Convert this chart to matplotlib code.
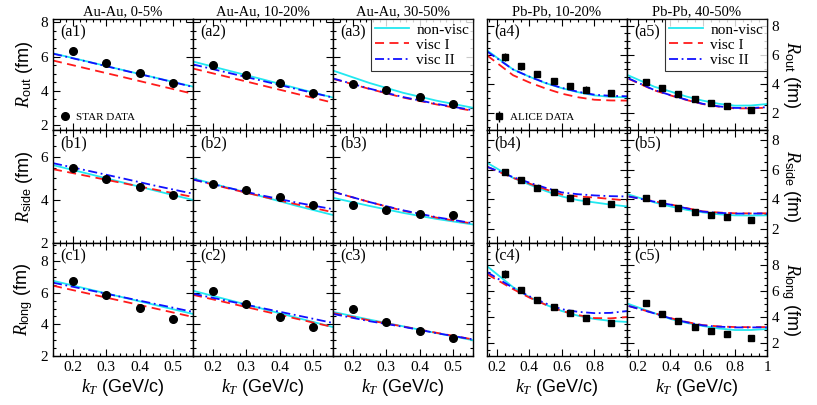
import numpy as np
import matplotlib
matplotlib.use("Agg")
import matplotlib.pyplot as plt
from matplotlib.ticker import MultipleLocator, FuncFormatter

plt.rcParams['font.family'] = ['Liberation Serif', 'DejaVu Serif']
plt.rcParams['mathtext.fontset'] = 'custom'
plt.rcParams['mathtext.rm'] = 'Liberation Sans'
plt.rcParams['mathtext.sf'] = 'Liberation Sans'
plt.rcParams['mathtext.it'] = 'Liberation Serif:italic'

# ---- data -------------------------------------------------------------
titles = ['Au-Au, 0-5%', 'Au-Au, 10-20%', 'Au-Au, 30-50%', 'Pb-Pb, 10-20%', 'Pb-Pb, 40-50%']
row_names = ['out', 'side', 'long']
row_letters = ['a', 'b', 'c']

# measured kT values
kt_star = [0.2, 0.3, 0.4, 0.5]
kt_alice = [0.25, 0.35, 0.45, 0.55, 0.65, 0.75, 0.9]

kt_th_au = [0.14, 0.25, 0.35, 0.45, 0.56]
kt_th_pb = [0.14, 0.3, 0.4, 0.5, 0.6, 0.7, 0.8, 0.9, 1.0]

# STAR data (R in fm), [row][column]
star_out = [[6.3, 5.6, 5.05, 4.45], [5.5, 4.95, 4.45, 3.85], [4.4, 4.05, 3.65, 3.25]]
star_side = [[5.48, 4.97, 4.62, 4.24], [4.72, 4.48, 4.12, 3.75], [3.78, 3.52, 3.35, 3.28]]
star_long = [[6.76, 5.87, 5.04, 4.34], [6.13, 5.3, 4.47, 3.83], [4.98, 4.15, 3.58, 3.13]]

# ALICE data
alice_out = [[5.84, 5.21, 4.68, 4.2, 3.85, 3.6, 3.35], [4.16, 3.74, 3.31, 2.97, 2.7, 2.49, 2.2]]
alice_out_err = [[0.28, 0.25, 0.22, 0.22, 0.2, 0.25, 0.18], [0.15, 0.14, 0.12, 0.12, 0.12, 0.12, 0.15]]
alice_side = [[5.87, 5.33, 4.8, 4.47, 4.13, 3.87, 3.67], [4.07, 3.73, 3.4, 3.13, 2.93, 2.8, 2.6]]
alice_side_err = [[0.15, 0.15, 0.12, 0.12, 0.12, 0.12, 0.15], [0.12, 0.12, 0.1, 0.1, 0.1, 0.1, 0.15]]
alice_long = [[7.31, 6.08, 5.31, 4.77, 4.31, 3.92, 3.54], [5.08, 4.23, 3.69, 3.23, 2.92, 2.69, 2.38]]
alice_long_err = [[0.3, 0.2, 0.15, 0.15, 0.15, 0.15, 0.15], [0.15, 0.12, 0.1, 0.1, 0.1, 0.1, 0.1]]

# model curves: non-visc, visc I, visc II
nonvisc_out = [[6.19, 5.68, 5.21, 4.75, 4.24], [5.71, 5.16, 4.66, 4.15, 3.6], [5.18, 4.45, 3.88, 3.42, 3.0],
               [6.33, 5.0, 4.5, 4.05, 3.7, 3.42, 3.2, 3.1, 3.07], [4.58, 3.8, 3.47, 3.12, 2.84, 2.62, 2.49, 2.5, 2.6]]
visc1_out = [[5.77, 5.26, 4.8, 4.33, 3.82], [5.3, 4.78, 4.3, 3.82, 3.3], [4.7, 4.1, 3.6, 3.2, 2.82],
             [5.98, 4.6, 4.1, 3.68, 3.32, 3.07, 2.9, 2.85, 2.84], [4.35, 3.55, 3.2, 2.88, 2.6, 2.42, 2.3, 2.3, 2.35]]
visc2_out = [[6.17, 5.67, 5.2, 4.74, 4.22], [5.54, 5.03, 4.57, 4.1, 3.6], [4.72, 4.12, 3.63, 3.23, 2.86],
             [6.25, 5.0, 4.5, 4.07, 3.72, 3.45, 3.25, 3.17, 3.14], [4.38, 3.57, 3.22, 2.9, 2.62, 2.44, 2.33, 2.33, 2.38]]

nonvisc_side = [[5.62, 5.2, 4.81, 4.42, 4.0], [5.0, 4.55, 4.15, 3.73, 3.3], [4.1, 3.72, 3.4, 3.12, 2.86],
                [6.47, 5.45, 5.0, 4.57, 4.2, 3.95, 3.8, 3.65, 3.53], [4.33, 3.8, 3.53, 3.3, 3.13, 3.0, 2.93, 2.92, 2.93]]
visc1_side = [[5.43, 5.09, 4.78, 4.47, 4.14], [4.95, 4.52, 4.15, 3.8, 3.43], [4.38, 3.9, 3.5, 3.18, 2.9],
              [6.2, 5.45, 5.07, 4.68, 4.33, 4.2, 4.13, 4.03, 3.93], [4.2, 3.87, 3.67, 3.42, 3.2, 3.12, 3.07, 3.06, 3.07]]
visc2_side = [[5.71, 5.34, 5.0, 4.65, 4.29], [4.95, 4.55, 4.2, 3.88, 3.57], [4.38, 3.9, 3.52, 3.2, 2.92],
              [6.2, 5.5, 5.13, 4.78, 4.47, 4.35, 4.27, 4.22, 4.2], [4.2, 3.85, 3.65, 3.4, 3.18, 3.1, 3.05, 3.05, 3.06]]

nonvisc_long = [[6.76, 6.21, 5.71, 5.21, 4.66], [6.13, 5.53, 4.98, 4.43, 3.83], [4.79, 4.3, 3.88, 3.45, 3.0],
                [7.92, 6.3, 5.54, 4.95, 4.46, 4.1, 3.85, 3.7, 3.62], [5.0, 4.3, 3.85, 3.55, 3.31, 3.12, 3.0, 3.0, 3.08]]
visc1_long = [[6.45, 5.93, 5.46, 4.99, 4.47], [5.87, 5.34, 4.85, 4.36, 3.83], [4.72, 4.25, 3.87, 3.47, 3.05],
              [7.3, 6.15, 5.5, 4.95, 4.46, 4.15, 3.92, 3.9, 4.0], [4.85, 4.3, 3.92, 3.62, 3.38, 3.28, 3.23, 3.22, 3.23]]
visc2_long = [[6.64, 6.16, 5.72, 5.28, 4.79], [5.94, 5.46, 5.02, 4.58, 4.09], [4.66, 4.2, 3.85, 3.45, 3.05],
              [7.46, 6.25, 5.6, 5.05, 4.6, 4.4, 4.3, 4.32, 4.46], [4.85, 4.28, 3.9, 3.6, 3.36, 3.26, 3.2, 3.2, 3.21]]

# y ranges per row, Au-Au block and Pb-Pb block
ylim_au = [(1.7, 8.2), (2.0, 7.25), (2.0, 9.15)]
ylim_pb = [(0.8, 8.5), (1.07, 8.67), (1.0, 9.7)]

# ---- figure -----------------------------------------------------------
W, H = 817, 405
fig = plt.figure(figsize=(W / 100, H / 100), dpi=100)

col_x = [53, 193, 333, 487, 627]
col_w = 140
row_y = [19, 130, 243, 356]

c_nv, c_v1, c_v2 = '#22e8f0', '#ff1a1a', '#1010ff'
sans = ['Liberation Sans', 'DejaVu Sans']

data_sets = [(star_out, alice_out, alice_out_err, nonvisc_out, visc1_out, visc2_out),
             (star_side, alice_side, alice_side_err, nonvisc_side, visc1_side, visc2_side),
             (star_long, alice_long, alice_long_err, nonvisc_long, visc1_long, visc2_long)]

fmt = FuncFormatter(lambda v, p: '%g' % round(v, 2))

for r in range(3):
    star, alice, alice_err, nv, v1, v2 = data_sets[r]
    for c in range(5):
        left = col_x[c] / W
        bottom = 1 - row_y[r + 1] / H
        height = (row_y[r + 1] - row_y[r]) / H
        ax = fig.add_axes([left, bottom, col_w / W, height])
        au = c < 3
        kt_th = kt_th_au if au else kt_th_pb

        l1, = ax.plot(kt_th, nv[c], '-', color=c_nv, lw=1.3, label='non-visc')
        l2, = ax.plot(kt_th, v1[c], '--', color=c_v1, lw=1.3, dashes=(5, 3), label='visc I')
        l3, = ax.plot(kt_th, v2[c], '-.', color=c_v2, lw=1.3, dashes=(5, 2, 1, 2), label='visc II')

        if au:
            pts, = ax.plot(kt_star, star[c], 'o', color='black', ms=5.5, label='STAR DATA')
            ax.set_xlim(0.14, 0.56)
            ax.set_ylim(*ylim_au[r])
            ax.xaxis.set_major_locator(MultipleLocator(0.1))
            ax.xaxis.set_minor_locator(MultipleLocator(0.02))
        else:
            k = c - 3
            eb = ax.errorbar(kt_alice, alice[k], yerr=alice_err[k], fmt='s', color='black',
                             ms=4.5, elinewidth=1.0, capsize=0, label='ALICE DATA')
            pts = eb
            ax.set_xlim(0.14 if c == 3 else 0.13, 1.0)
            ax.set_ylim(*ylim_pb[r])
            ax.xaxis.set_major_locator(MultipleLocator(0.2))
            ax.xaxis.set_minor_locator(MultipleLocator(0.05))

        ax.yaxis.set_major_locator(MultipleLocator(2))
        ax.yaxis.set_minor_locator(MultipleLocator(0.5))
        ax.tick_params(which='both', direction='in', top=True, right=True, labelsize=11)
        ax.tick_params(which='major', length=5, width=0.8)
        ax.tick_params(which='minor', length=2.5, width=0.8)
        for s in ax.spines.values():
            s.set_linewidth(1.0)

        # tick labels
        ax.tick_params(labelleft=(c == 0), labelright=(c == 4), labelbottom=(r == 2))
        ax.yaxis.set_major_formatter(fmt)
        if c == 3:
            ax.xaxis.set_major_formatter(FuncFormatter(lambda v, p: '' if v > 0.95 else '%g' % round(v, 2)))
        else:
            ax.xaxis.set_major_formatter(fmt)

        ax.text(0.05, 0.95, '(%s%d)' % (row_letters[r], c + 1), transform=ax.transAxes,
                ha='left', va='top', fontsize=11.5)

        if r == 0:
            ax.set_title(titles[c], fontsize=10.5, pad=3)
            if c in (2, 4):
                leg = ax.legend(handles=[l1, l2, l3], loc='upper right', fontsize=11,
                                frameon=True, fancybox=False, borderaxespad=0,
                                handlelength=2.2, handletextpad=0.5, labelspacing=0.1,
                                borderpad=0.25)
                leg.get_frame().set_edgecolor('black')
                leg.get_frame().set_linewidth(0.8)
            if c in (0, 3):
                ax.legend(handles=[pts], loc='lower left', frameon=False, fontsize=8,
                          handlelength=0.8, handletextpad=0.6, borderaxespad=0.3)

        if r == 2:
            ax.set_xlabel(r'$k_T$ (GeV/c)', family=sans, fontsize=13, labelpad=2)

        lab = r'$R_{\rm %s}$ (fm)' % row_names[r]
        if c == 0:
            ax.set_ylabel(lab, family=sans, fontsize=13, labelpad=4)
        if c == 4:
            ax.yaxis.set_label_position('right')
            ax.set_ylabel(lab, family=sans, fontsize=13, rotation=-90, labelpad=16)

fig.savefig('out.png', dpi=100)
